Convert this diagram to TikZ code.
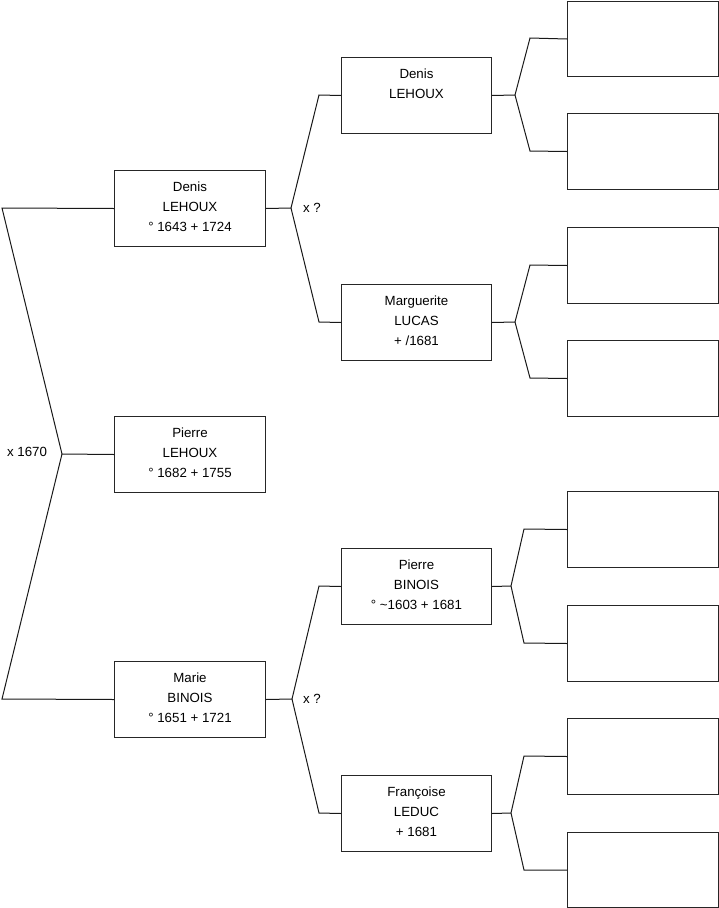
\documentclass[tikz,border=0pt]{standalone}
\usepackage{fontspec}
\setmainfont{Liberation Sans}
\begin{document}
\begin{tikzpicture}[x=1pt,y=-1pt,
  box/.style={draw=black!85, line width=1pt, inner sep=0pt, anchor=north west, minimum height=76pt},
  boxw/.style={box, minimum width=151pt},
  boxn/.style={box, minimum width=150pt},
  txt/.style={anchor=north, align=center, inner sep=0pt, font=\fontsize{13.3}{20}\selectfont},
  lbl/.style={inner sep=0pt, font=\fontsize{13.3}{20}\selectfont},
  conn/.style={line width=1pt, draw=black!90}]
\useasboundingbox (0,0) rectangle (719,908);
% generation 1
\node[boxw] (d1) at (114,170) {};
\node[boxw] (p1) at (114,416) {};
\node[boxw] (m1) at (114,661) {};
% generation 2
\node[boxn] (g2a) at (341,57) {};
\node[boxn] (g2b) at (341,284) {};
\node[boxn] (g2c) at (341,548) {};
\node[boxn] (g2d) at (341,775) {};
% generation 3
\node[boxw, minimum height=75pt] (h1) at (567,1) {};
\node[boxw] (h2) at (567,113) {};
\node[boxw] (h3) at (567,227) {};
\node[boxw] (h4) at (567,340) {};
\node[boxw] (h5) at (567,491) {};
\node[boxw] (h6) at (567,605) {};
\node[boxw] (h7) at (567,718) {};
\node[boxw, minimum height=75pt] (h8) at (567,832) {};
% texts
\node[txt] (td1) at ([yshift=-11.7pt]d1.north) {Denis\\LEHOUX\\° 1643 + 1724};
\node[txt] (tp1) at ([yshift=-11.7pt]p1.north) {Pierre\\LEHOUX\\° 1682 + 1755};
\node[txt] (tm1) at ([yshift=-11.7pt]m1.north) {Marie\\BINOIS\\° 1651 + 1721};
\node[txt] (tg2a) at ([yshift=-11.7pt]g2a.north) {Denis\\LEHOUX};
\node[txt] (tg2b) at ([yshift=-11.7pt]g2b.north) {Marguerite\\LUCAS\\+ /1681};
\node[txt] (tg2c) at ([yshift=-11.7pt]g2c.north) {Pierre\\BINOIS\\° \textasciitilde1603 + 1681};
\node[txt] (tg2d) at ([yshift=-11.7pt]g2d.north) {Françoise\\LEDUC\\+ 1681};
% labels
\node[lbl] (x0) at (27,452) {x 1670};
\node[lbl] (x1) at (312,208) {x ?};
\node[lbl] (x2) at (312,699) {x ?};
% split coordinates
\coordinate (s0t) at (2,208);
\coordinate (s0m) at (62,454);
\coordinate (s0b) at (2,699);
\coordinate (s1) at (291,208);
\coordinate (s1a) at (319,95);
\coordinate (s1b) at (319,322);
\coordinate (s2) at (292,699);
\coordinate (s2a) at (319,586);
\coordinate (s2b) at (319,813);
\coordinate (sa) at (515,95);
\coordinate (saa) at (530,38);
\coordinate (sab) at (530,151);
\coordinate (sb) at (515,322);
\coordinate (sba) at (530,265);
\coordinate (sbb) at (530,378);
\coordinate (sc) at (511,586);
\coordinate (sca) at (524,529);
\coordinate (scb) at (524,643);
\coordinate (sd) at (511,813);
\coordinate (sda) at (524,756);
\coordinate (sdb) at (524,870);
% connectors
\draw[conn] (d1.west) -- (s0t) -- (s0m) -- (p1.west);
\draw[conn] (s0m) -- (s0b) -- (m1.west);
\draw[conn] (d1.east) -- (s1) -- (s1a) -- (g2a.west);
\draw[conn] (s1) -- (s1b) -- (g2b.west);
\draw[conn] (m1.east) -- (s2) -- (s2a) -- (g2c.west);
\draw[conn] (s2) -- (s2b) -- (g2d.west);
\draw[conn] (g2a.east) -- (sa) -- (saa) -- (h1.west);
\draw[conn] (sa) -- (sab) -- (h2.west);
\draw[conn] (g2b.east) -- (sb) -- (sba) -- (h3.west);
\draw[conn] (sb) -- (sbb) -- (h4.west);
\draw[conn] (g2c.east) -- (sc) -- (sca) -- (h5.west);
\draw[conn] (sc) -- (scb) -- (h6.west);
\draw[conn] (g2d.east) -- (sd) -- (sda) -- (h7.west);
\draw[conn] (sd) -- (sdb) -- (h8.west);
\end{tikzpicture}
\end{document}
